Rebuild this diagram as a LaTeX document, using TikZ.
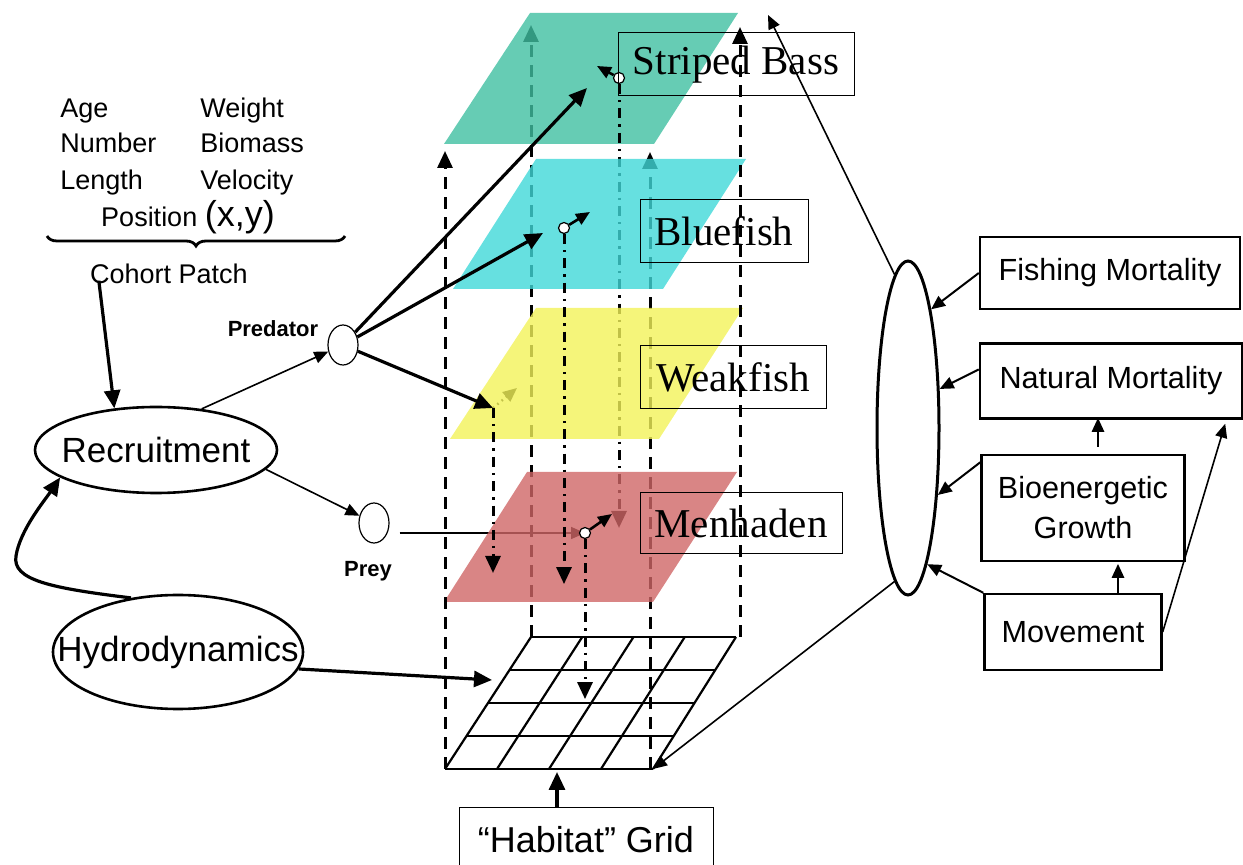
\documentclass[tikz,border=0pt]{standalone}
\usepackage{fontspec}
\setmainfont{Liberation Serif}
\setsansfont{Liberation Sans}
\renewcommand\familydefault{\sfdefault}
\usepackage{tikz}
\usetikzlibrary{arrows.meta,positioning,calc,shapes.geometric,
                decorations.pathreplacing}
\definecolor{basscol}{HTML}{40BFA1}
\definecolor{bluecol}{HTML}{40D8D8}
\definecolor{weakcol}{HTML}{F2F259}
\definecolor{menhcol}{HTML}{CF6666}

\begin{document}
\begin{tikzpicture}[x=0.5pt,y=-0.5pt,
  attr/.style={anchor=base west,inner sep=0pt,font=\fontsize{13.5}{16}\selectfont},
  role/.style={anchor=base,inner sep=0pt,font=\bfseries\fontsize{11}{13}\selectfont},
  oval/.style={ellipse,draw,line width=1.3pt,inner sep=0pt},
  blob/.style={ellipse,draw,line width=0.6pt,fill=white,inner sep=0pt,
               minimum width=15pt,minimum height=20pt},
  cohort/.style={circle,draw,line width=0.6pt,fill=white,inner sep=0pt,minimum size=5.5pt},
  fishlab/.style={draw,line width=0.5pt,inner sep=0pt,minimum height=31.5pt,
                  font=\rmfamily\fontsize{20.5}{24}\selectfont},
  procbox/.style={draw,line width=1.2pt,inner sep=0pt,align=center,
                  font=\fontsize{15.3}{20}\selectfont},
  hvy/.style={line width=1.6pt,-{Triangle[length=9pt,width=8pt]}},
  lgt/.style={line width=0.8pt,-{Triangle[length=7pt,width=6pt]}},
  vdash/.style={line width=1.5pt,dash pattern=on 6pt off 4pt,
                -{Triangle[length=8.5pt,width=7.5pt]}},
  vdashdot/.style={line width=1.5pt,dash pattern=on 5pt off 3pt on 1.2pt off 3pt,
                   -{Triangle[length=8.5pt,width=7.5pt]}},
  layer/.style={fill opacity=0.8},
]
\useasboundingbox (0,0) rectangle (1243,865);

% grid corners and free ends
\coordinate (gBL) at (445,769);
\coordinate (gBR) at (653,769);
\coordinate (gTL) at (531,637);
\coordinate (gTR) at (740,637);
\coordinate (gB) at (557,772);
\coordinate (gW) at (492,680);
\coordinate (sbTop) at (768,15);
\coordinate (wfpt) at (493,408);
\coordinate (mhpt) at (585,533);

% left side
\node[attr] (age) at (60,118) {Age};
\node[attr] (num) at (60,153) {Number};
\node[attr] (len) at (60,190) {Length};
\node[attr] (wgt) at (200,118) {Weight};
\node[attr] (bio) at (200,153) {Biomass};
\node[attr] (vel) at (200,190) {Velocity};
\node[attr,anchor=base] (pos) at (188,227) {Position {\fontsize{18}{20}\selectfont(x,y)}};
\draw[line width=1.4pt,decorate,decoration={brace,mirror,amplitude=5pt}]
  (47,236) -- (345,236);
\node[attr,anchor=base] (cohort) at (169,284) {Cohort Patch};

\node[oval,minimum width=121pt,minimum height=43pt,
      label={[font=\fontsize{17.5}{20}\selectfont]center:Recruitment}] (recruit) at (156,450) {};
\node[oval,minimum width=125pt,minimum height=57pt,
      label={[font=\fontsize{17.5}{20}\selectfont]center:Hydrodynamics}] (hydro) at (178,652) {};
\node[blob] (pred) at (343,345) {};
\node[blob] (prey) at (374,523) {};
\node[role] at (273,337) {Predator};
\node[role] at (368,577) {Prey};

\draw[hvy] ($(cohort.south west)+(9,-4)$) -- (recruit.135);
\draw[hvy] (hydro.131) .. controls (50,588) and (12,580) .. (16,556)
  .. controls (20,530) and (45,500) .. (recruit.196);
\draw[lgt] (recruit.42) -- (pred);
\draw[lgt] (recruit.-10) -- (prey);

% layers, back to front
\draw[vdash] (gTL) -- (531,25);
\draw[vdash] (650,769) -- (650,152);

\fill[basscol,layer] (444,144) -- (654,144) -- (738,13) -- (530,13) -- cycle;
\node[cohort] (sbc) at (619,78) {};
\draw[vdashdot] (sbc) -- (619,528);
\draw[lgt,dotted,line width=1.2pt] (wfpt) -- (517,388);
\draw[lgt] ([xshift=5pt,yshift=-5pt]prey.east) -- (mhpt);

\fill[bluecol,layer] (453,289) -- (663,289) -- (746,159) -- (536,159) -- cycle;
\fill[weakcol,layer] (450,439) -- (659,439) -- (743,308) -- (536,308) -- cycle;
\fill[menhcol,layer] (444,602) -- (653,602) -- (737,472) -- (527,472) -- cycle;

\foreach \i in {0,...,4}
  \draw[line width=1.1pt] (445+21.5*\i,769-33*\i) -- (653+20.75*\i,769-33*\i);
\foreach \j in {0,...,4}
  \draw[line width=1.1pt] (445+52*\j,769) -- (531+51.25*\j,637);

\draw[vdash] (gBL) -- (445,151);
\draw[vdash] (gTR) -- (740,27);

\node[cohort] (bfc) at (564,228) {};
\node[cohort] (mhc) at (mhpt) {};
\draw[vdashdot] (bfc.south) -- ++(0,350);
\draw[vdashdot] (wfpt) -- ++(0,165);
\draw[vdashdot] (mhc.south) -- ++(0,160);

\draw[lgt,line width=1.3pt] (sbc) -- (597,66);
\draw[lgt,line width=1.3pt] (bfc) -- (590,212);
\draw[lgt,line width=1.3pt] (mhc) -- (612,514);

\draw[hvy] (pred) -- (587,88);
\draw[hvy] (pred) -- (543,233);
\draw[hvy] (pred) -- (wfpt);
\draw[hvy] (hydro.-8) -- (gW);

\node[fishlab,minimum width=118pt] (bass) at (736,64.5) {Striped Bass};
\node[fishlab,minimum width=84pt] (blue) at (724,231.5) {Bluefish};
\node[fishlab,minimum width=93pt] (weak) at (733,377.5) {Weakfish};
\node[fishlab,minimum width=101pt,minimum height=30.5pt] (menh) at (741,523.5) {Menhaden};

\node[draw,line width=0.5pt,minimum width=127pt,minimum height=32pt,inner sep=0pt,
      font=\fontsize{18}{21}\selectfont] (hab) at (586,840) {“Habitat” Grid};
\draw[hvy] ([xshift=-14.5pt]hab.north) -- (gB);

% right side
\node[ellipse,draw,line width=1.5pt,inner sep=0pt,minimum width=31pt,minimum height=167pt]
  (fate) at (908,428) {};
\node[procbox,minimum width=130pt,minimum height=36pt] (fish) at (1110,273) {Fishing Mortality};
\node[procbox,minimum width=131pt,minimum height=37.5pt] (nat) at (1111,381) {Natural Mortality};
\node[procbox,minimum width=101.5pt,minimum height=53pt] (grow) at (1083,508) {Bioenergetic\\Growth};
\node[procbox,minimum width=88.5pt,minimum height=38pt] (move) at (1073,632) {Movement};

\draw[lgt,line width=1pt] (fish.west) -- (fate.79);
\draw[lgt,line width=1pt] (nat.175) -- (fate.51);
\draw[lgt,line width=1pt] (grow.156) -- (fate.-66);
\draw[lgt,line width=1pt] (move.north west) -- (fate.-82);
\draw[lgt,line width=1.3pt] ($(grow.north)+(15,-7)$) -- ($(grow.north)+(15,-36)$);
\draw[lgt,line width=1.3pt] ($(move.north)+(45,0)$) -- ($(move.north)+(45,-29)$);
\draw[lgt] (move.east) -- ($(nat.south east)+(-18,4)$);
\draw[lgt] (fate.95) -- (sbTop);
\draw[lgt] (fate.265) -- (gBR);
\end{tikzpicture}
\end{document}
